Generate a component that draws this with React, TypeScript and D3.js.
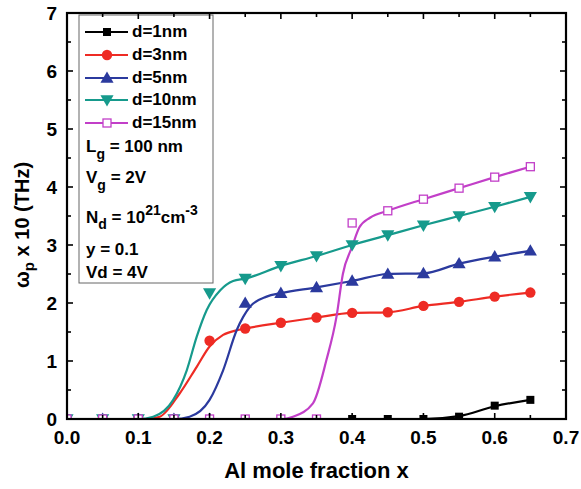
import React from "react";
import * as d3 from "d3";

const W = 581;
const H = 489;

const xValues = [0, 0.05, 0.1, 0.15, 0.2, 0.25, 0.3, 0.35, 0.4, 0.45, 0.5, 0.55, 0.6, 0.65];
const d1 = [0, 0, 0, 0, 0, 0, 0, 0, 0, 0, 0, 0.04, 0.23, 0.33];
const d3v = [0, 0, 0, 0, 1.35, 1.56, 1.66, 1.75, 1.83, 1.84, 1.95, 2.02, 2.11, 2.18];
const d5 = [0, 0, 0, 0, 0, 2.0, 2.17, 2.27, 2.38, 2.5, 2.51, 2.68, 2.8, 2.9];
const d10 = [0, 0, 0, 0, 2.17, 2.42, 2.64, 2.81, 3.0, 3.17, 3.34, 3.5, 3.66, 3.83];
const d15 = [0, 0, 0, 0, 0, 0, 0, 0, 3.38, 3.59, 3.79, 3.98, 4.17, 4.35];

// fitted curves
const fit1X = [0, 0.45, 0.5, 0.55, 0.6, 0.65];
const fit1Y = [0, 0, 0, 0.05, 0.22, 0.33];
const fit3X = [0, 0.11, 0.13, 0.158, 0.182, 0.2, 0.219, 0.238, 0.25, 0.3, 0.35, 0.4, 0.45, 0.5, 0.55, 0.6, 0.65];
const fit3Y = [0, 0, 0.04, 0.44, 0.9, 1.25, 1.45, 1.53, 1.56, 1.66, 1.75, 1.83, 1.84, 1.95, 2.02, 2.11, 2.18];
const fit5X = [0, 0.15, 0.172, 0.2, 0.219, 0.238, 0.257, 0.28, 0.3, 0.35, 0.4, 0.45, 0.5, 0.55, 0.6, 0.65];
const fit5Y = [0, 0, 0.04, 0.33, 0.84, 1.53, 1.94, 2.11, 2.17, 2.27, 2.38, 2.5, 2.51, 2.68, 2.8, 2.9];
const fit10X = [0, 0.1, 0.121, 0.149, 0.168, 0.182, 0.196, 0.215, 0.233, 0.25, 0.3, 0.35, 0.4, 0.45, 0.5, 0.55, 0.6, 0.65];
const fit10Y = [0, 0, 0.04, 0.33, 0.84, 1.42, 1.88, 2.22, 2.38, 2.42, 2.64, 2.81, 3.0, 3.17, 3.34, 3.5, 3.66, 3.83];
const fit15X = [0, 0.3, 0.317, 0.345, 0.364, 0.378, 0.387, 0.4, 0.41, 0.425, 0.45, 0.5, 0.55, 0.6, 0.65];
const fit15Y = [0, 0, 0.04, 0.27, 1.02, 1.76, 2.5, 2.97, 3.3, 3.47, 3.59, 3.79, 3.98, 4.17, 4.35];

const xTicks = [0, 0.1, 0.2, 0.3, 0.4, 0.5, 0.6, 0.7];
const xTickLabels = ["0.0", "0.1", "0.2", "0.3", "0.4", "0.5", "0.6", "0.7"];
const yTicks = [0, 1, 2, 3, 4, 5, 6, 7];
const yTickLabels = ["0", "1", "2", "3", "4", "5", "6", "7"];

const seriesNames = ["d=1nm", "d=3nm", "d=5nm", "d=10nm", "d=15nm"];
const seriesColors = ["#000000", "#ee2b24", "#2b3a9e", "#169a8c", "#c23fc8"];
const seriesMarkers = ["square", "circle", "triUp", "triDown", "openSquare"];
const seriesValues = [d1, d3v, d5, d10, d15];
const fitXs = [fit1X, fit3X, fit5X, fit10X, fit15X];
const fitYs = [fit1Y, fit3Y, fit5Y, fit10Y, fit15Y];

const FONT = "Liberation Sans, Arial, sans-serif";

const L = 67, R = 566, T = 13, B = 419;

function Marker({ kind, x, y, color }: { kind: string; x: number; y: number; color: string }) {
  if (kind === "square") return <rect x={x - 4} y={y - 4} width={8} height={8} fill={color} />;
  if (kind === "circle") return <circle cx={x} cy={y} r={5.2} fill={color} />;
  if (kind === "triUp") {
    const p = d3.symbol(d3.symbolTriangle, 75)();
    return <path d={p as string} transform={`translate(${x},${y + 1})`} fill={color} />;
  }
  if (kind === "triDown") {
    const p = d3.symbol(d3.symbolTriangle, 75)();
    return <path d={p as string} transform={`translate(${x},${y - 1}) rotate(180)`} fill={color} />;
  }
  return <rect x={x - 4} y={y - 4} width={8} height={8} fill="#fff" stroke={color} strokeWidth={1.3} />;
}

export default function App() {
  const x = d3.scaleLinear().domain([0, 0.7]).range([L, R]);
  const y = d3.scaleLinear().domain([0, 7]).range([B, T]);
  const line = d3
    .line<[number, number]>()
    .x((d) => x(d[0]))
    .y((d) => y(d[1]))
    .curve(d3.curveMonotoneX);

  const minorX = d3.range(0, 0.7001, 0.05);
  const minorY = d3.range(0, 7.001, 0.5);

  const legendRows = [37, 60, 83, 105, 128];

  return (
    <svg width={W} height={H} style={{ position: "absolute", left: 0, top: 0, background: "#fff" }} fontFamily={FONT}>
      <defs>
        <clipPath id="plotclip">
          <rect x={L} y={T} width={R - L} height={B - T} />
        </clipPath>
      </defs>
      <rect width={W} height={H} fill="#fff" />

      {/* legend box */}
      <rect x={79} y={15} width={134} height={268} fill="#fff" stroke="#666" strokeWidth={1} />

      {/* fitted lines */}
      <g clipPath="url(#plotclip)">
        {seriesNames.map((n, i) => (
          <path
            key={n}
            d={line(fitXs[i].map((v, j) => [v, fitYs[i][j]] as [number, number])) as string}
            fill="none"
            stroke={seriesColors[i]}
            strokeWidth={2.2}
          />
        ))}
        {seriesNames.map((n, i) => (
          <g key={n + "m"}>
            {xValues.map((xv, j) => (
              <Marker key={j} kind={seriesMarkers[i]} x={x(xv)} y={y(seriesValues[i][j])} color={seriesColors[i]} />
            ))}
          </g>
        ))}
      </g>

      {/* ticks */}
      <g stroke="#000" strokeWidth={1.6}>
        {minorX.map((v, i) => {
          const major = i % 2 === 0;
          const len = major ? 6 : 4;
          return (
            <g key={"tx" + i}>
              <line x1={x(v)} x2={x(v)} y1={B} y2={B - len} />
              <line x1={x(v)} x2={x(v)} y1={T} y2={T + len} />
            </g>
          );
        })}
        {minorY.map((v, i) => {
          const major = i % 2 === 0;
          const len = major ? 6 : 4;
          return (
            <g key={"ty" + i}>
              <line x1={L} x2={L + len} y1={y(v)} y2={y(v)} />
              <line x1={R} x2={R - len} y1={y(v)} y2={y(v)} />
            </g>
          );
        })}
      </g>

      {/* frame */}
      <rect x={L} y={T} width={R - L} height={B - T} fill="none" stroke="#000" strokeWidth={2.2} />

      {/* tick labels */}
      <g fontSize={19} fontWeight="bold" fill="#000">
        {xTicks.map((v, i) => (
          <text key={"xl" + i} x={x(v)} y={444} textAnchor="middle">
            {xTickLabels[i]}
          </text>
        ))}
        {yTicks.map((v, i) => (
          <text key={"yl" + i} x={57} y={y(v) + 7} textAnchor="end">
            {yTickLabels[i]}
          </text>
        ))}
      </g>

      {/* axis titles */}
      <text x={(L + R) / 2} y={478} textAnchor="middle" fontSize={22} fontWeight="bold">
        Al mole fraction x
      </text>
      <text transform="translate(29,225) rotate(-90)" textAnchor="middle" fontSize={20} fontWeight="bold">
        ω<tspan fontSize={15} dy={5}>p</tspan>
        <tspan dy={-5}> x 10 (THz)</tspan>
      </text>

      {/* legend entries */}
      {seriesNames.map((n, i) => (
        <g key={"lg" + i}>
          <line x1={85} x2={128} y1={legendRows[i] - 5} y2={legendRows[i] - 5} stroke={seriesColors[i]} strokeWidth={2.2} />
          <Marker kind={seriesMarkers[i]} x={107} y={legendRows[i] - 5} color={seriesColors[i]} />
          <text x={132} y={legendRows[i]} fontSize={17} fontWeight="bold">
            {n}
          </text>
        </g>
      ))}
      <g fontSize={17} fontWeight="bold">
        <text x={86} y={152}>
          L<tspan fontSize={14} dy={7}>g</tspan>
          <tspan dy={-7}> = 100 nm</tspan>
        </text>
        <text x={86} y={183}>
          V<tspan fontSize={14} dy={7}>g</tspan>
          <tspan dy={-7}> = 2V</tspan>
        </text>
        <text x={86} y={223}>
          N<tspan fontSize={14} dy={6}>d</tspan>
          <tspan dy={-6}> = 10</tspan>
          <tspan fontSize={14} dy={-8}>21</tspan>
          <tspan dy={8}>cm</tspan>
          <tspan fontSize={14} dy={-8}>-3</tspan>
        </text>
        <text x={86} y={255}>y = 0.1</text>
        <text x={86} y={278}>Vd = 4V</text>
      </g>
    </svg>
  );
}
